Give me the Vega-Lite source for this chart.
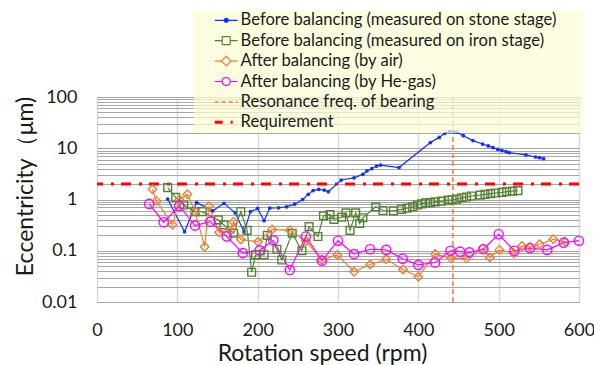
{
  "$schema": "https://vega.github.io/schema/vega-lite/v6.json",
  "width": 482,
  "height": 205,
  "autosize": {"type": "none"},
  "padding": {"left": 97, "top": 97, "right": 15, "bottom": 63},
  "background": "white",
  "config": {
    "font": "Lato",
    "view": {"stroke": "#7f7f7f", "strokeWidth": 1},
    "axis": {"labelColor": "#1a1a1a", "titleColor": "#1a1a1a", "titleFontWeight": "normal", "ticks": false, "domain": false, "labelFontSize": 18, "titleFontSize": 23}
  },
  "datasets": {
    "series": [
      {"series": "Before balancing (measured on stone stage)", "rpm": 88, "ecc": 1.02},
      {"series": "Before balancing (measured on stone stage)", "rpm": 109, "ecc": 0.235},
      {"series": "Before balancing (measured on stone stage)", "rpm": 124, "ecc": 0.87},
      {"series": "Before balancing (measured on stone stage)", "rpm": 144, "ecc": 0.6},
      {"series": "Before balancing (measured on stone stage)", "rpm": 158, "ecc": 0.84},
      {"series": "Before balancing (measured on stone stage)", "rpm": 172, "ecc": 0.55},
      {"series": "Before balancing (measured on stone stage)", "rpm": 183, "ecc": 0.235},
      {"series": "Before balancing (measured on stone stage)", "rpm": 191, "ecc": 0.58},
      {"series": "Before balancing (measured on stone stage)", "rpm": 200, "ecc": 0.67},
      {"series": "Before balancing (measured on stone stage)", "rpm": 208, "ecc": 0.385},
      {"series": "Before balancing (measured on stone stage)", "rpm": 215, "ecc": 0.68},
      {"series": "Before balancing (measured on stone stage)", "rpm": 226, "ecc": 0.69},
      {"series": "Before balancing (measured on stone stage)", "rpm": 236, "ecc": 0.72},
      {"series": "Before balancing (measured on stone stage)", "rpm": 246, "ecc": 0.81},
      {"series": "Before balancing (measured on stone stage)", "rpm": 256, "ecc": 1.0},
      {"series": "Before balancing (measured on stone stage)", "rpm": 263, "ecc": 1.26},
      {"series": "Before balancing (measured on stone stage)", "rpm": 269, "ecc": 1.49},
      {"series": "Before balancing (measured on stone stage)", "rpm": 276, "ecc": 1.58},
      {"series": "Before balancing (measured on stone stage)", "rpm": 283, "ecc": 1.53},
      {"series": "Before balancing (measured on stone stage)", "rpm": 288, "ecc": 1.42},
      {"series": "Before balancing (measured on stone stage)", "rpm": 304, "ecc": 2.4},
      {"series": "Before balancing (measured on stone stage)", "rpm": 320, "ecc": 2.65},
      {"series": "Before balancing (measured on stone stage)", "rpm": 331, "ecc": 3.1},
      {"series": "Before balancing (measured on stone stage)", "rpm": 336, "ecc": 3.6},
      {"series": "Before balancing (measured on stone stage)", "rpm": 342, "ecc": 4.0},
      {"series": "Before balancing (measured on stone stage)", "rpm": 348, "ecc": 4.5},
      {"series": "Before balancing (measured on stone stage)", "rpm": 353, "ecc": 4.7},
      {"series": "Before balancing (measured on stone stage)", "rpm": 376, "ecc": 4.2},
      {"series": "Before balancing (measured on stone stage)", "rpm": 415, "ecc": 12.9},
      {"series": "Before balancing (measured on stone stage)", "rpm": 426, "ecc": 16.3},
      {"series": "Before balancing (measured on stone stage)", "rpm": 433, "ecc": 19.6},
      {"series": "Before balancing (measured on stone stage)", "rpm": 439, "ecc": 21},
      {"series": "Before balancing (measured on stone stage)", "rpm": 444, "ecc": 20.8},
      {"series": "Before balancing (measured on stone stage)", "rpm": 448, "ecc": 20.6},
      {"series": "Before balancing (measured on stone stage)", "rpm": 456, "ecc": 17.6},
      {"series": "Before balancing (measured on stone stage)", "rpm": 468, "ecc": 14.1},
      {"series": "Before balancing (measured on stone stage)", "rpm": 480, "ecc": 12.1},
      {"series": "Before balancing (measured on stone stage)", "rpm": 487, "ecc": 11.1},
      {"series": "Before balancing (measured on stone stage)", "rpm": 493, "ecc": 10.3},
      {"series": "Before balancing (measured on stone stage)", "rpm": 499, "ecc": 9.5},
      {"series": "Before balancing (measured on stone stage)", "rpm": 504, "ecc": 9.0},
      {"series": "Before balancing (measured on stone stage)", "rpm": 509, "ecc": 8.6},
      {"series": "Before balancing (measured on stone stage)", "rpm": 513, "ecc": 8.2},
      {"series": "Before balancing (measured on stone stage)", "rpm": 534, "ecc": 7.4},
      {"series": "Before balancing (measured on stone stage)", "rpm": 546, "ecc": 6.75},
      {"series": "Before balancing (measured on stone stage)", "rpm": 551, "ecc": 6.55},
      {"series": "Before balancing (measured on stone stage)", "rpm": 556, "ecc": 6.25},

      {"series": "Before balancing (measured on iron stage)", "rpm": 88, "ecc": 1.7},
      {"series": "Before balancing (measured on iron stage)", "rpm": 98, "ecc": 1.1},
      {"series": "Before balancing (measured on iron stage)", "rpm": 108, "ecc": 0.78},
      {"series": "Before balancing (measured on iron stage)", "rpm": 122, "ecc": 0.58},
      {"series": "Before balancing (measured on iron stage)", "rpm": 131, "ecc": 0.58},
      {"series": "Before balancing (measured on iron stage)", "rpm": 151, "ecc": 0.4},
      {"series": "Before balancing (measured on iron stage)", "rpm": 158, "ecc": 0.32},
      {"series": "Before balancing (measured on iron stage)", "rpm": 170, "ecc": 0.22},
      {"series": "Before balancing (measured on iron stage)", "rpm": 179, "ecc": 0.58},
      {"series": "Before balancing (measured on iron stage)", "rpm": 187, "ecc": 0.25},
      {"series": "Before balancing (measured on iron stage)", "rpm": 192.5, "ecc": 0.038},
      {"series": "Before balancing (measured on iron stage)", "rpm": 197.5, "ecc": 0.083},
      {"series": "Before balancing (measured on iron stage)", "rpm": 208, "ecc": 0.083},
      {"series": "Before balancing (measured on iron stage)", "rpm": 212, "ecc": 0.2},
      {"series": "Before balancing (measured on iron stage)", "rpm": 224, "ecc": 0.107},
      {"series": "Before balancing (measured on iron stage)", "rpm": 230, "ecc": 0.066},
      {"series": "Before balancing (measured on iron stage)", "rpm": 243, "ecc": 0.22},
      {"series": "Before balancing (measured on iron stage)", "rpm": 255, "ecc": 0.1},
      {"series": "Before balancing (measured on iron stage)", "rpm": 264, "ecc": 0.295},
      {"series": "Before balancing (measured on iron stage)", "rpm": 275, "ecc": 0.19},
      {"series": "Before balancing (measured on iron stage)", "rpm": 282, "ecc": 0.48},
      {"series": "Before balancing (measured on iron stage)", "rpm": 290, "ecc": 0.51},
      {"series": "Before balancing (measured on iron stage)", "rpm": 295, "ecc": 0.41},
      {"series": "Before balancing (measured on iron stage)", "rpm": 304.6, "ecc": 0.45},
      {"series": "Before balancing (measured on iron stage)", "rpm": 310, "ecc": 0.55},
      {"series": "Before balancing (measured on iron stage)", "rpm": 315, "ecc": 0.25},
      {"series": "Before balancing (measured on iron stage)", "rpm": 322, "ecc": 0.55},
      {"series": "Before balancing (measured on iron stage)", "rpm": 327, "ecc": 0.34},
      {"series": "Before balancing (measured on iron stage)", "rpm": 331, "ecc": 0.44},
      {"series": "Before balancing (measured on iron stage)", "rpm": 347, "ecc": 0.72},
      {"series": "Before balancing (measured on iron stage)", "rpm": 356, "ecc": 0.61},
      {"series": "Before balancing (measured on iron stage)", "rpm": 369, "ecc": 0.6},
      {"series": "Before balancing (measured on iron stage)", "rpm": 379, "ecc": 0.64},
      {"series": "Before balancing (measured on iron stage)", "rpm": 386, "ecc": 0.68},
      {"series": "Before balancing (measured on iron stage)", "rpm": 393, "ecc": 0.72},
      {"series": "Before balancing (measured on iron stage)", "rpm": 399, "ecc": 0.78},
      {"series": "Before balancing (measured on iron stage)", "rpm": 404, "ecc": 0.82},
      {"series": "Before balancing (measured on iron stage)", "rpm": 409, "ecc": 0.86},
      {"series": "Before balancing (measured on iron stage)", "rpm": 415, "ecc": 0.87},
      {"series": "Before balancing (measured on iron stage)", "rpm": 421, "ecc": 0.9},
      {"series": "Before balancing (measured on iron stage)", "rpm": 429, "ecc": 0.93},
      {"series": "Before balancing (measured on iron stage)", "rpm": 437, "ecc": 0.97},
      {"series": "Before balancing (measured on iron stage)", "rpm": 442, "ecc": 0.99},
      {"series": "Before balancing (measured on iron stage)", "rpm": 448, "ecc": 1.02},
      {"series": "Before balancing (measured on iron stage)", "rpm": 454, "ecc": 1.08},
      {"series": "Before balancing (measured on iron stage)", "rpm": 460, "ecc": 1.12},
      {"series": "Before balancing (measured on iron stage)", "rpm": 466, "ecc": 1.17},
      {"series": "Before balancing (measured on iron stage)", "rpm": 477, "ecc": 1.22},
      {"series": "Before balancing (measured on iron stage)", "rpm": 483, "ecc": 1.26},
      {"series": "Before balancing (measured on iron stage)", "rpm": 490, "ecc": 1.3},
      {"series": "Before balancing (measured on iron stage)", "rpm": 496, "ecc": 1.34},
      {"series": "Before balancing (measured on iron stage)", "rpm": 504, "ecc": 1.38},
      {"series": "Before balancing (measured on iron stage)", "rpm": 510, "ecc": 1.42},
      {"series": "Before balancing (measured on iron stage)", "rpm": 517, "ecc": 1.46},
      {"series": "Before balancing (measured on iron stage)", "rpm": 524, "ecc": 1.49},

      {"series": "After balancing (by air)", "rpm": 69, "ecc": 1.58},
      {"series": "After balancing (by air)", "rpm": 74, "ecc": 0.94},
      {"series": "After balancing (by air)", "rpm": 94, "ecc": 0.32},
      {"series": "After balancing (by air)", "rpm": 102.5, "ecc": 1.0},
      {"series": "After balancing (by air)", "rpm": 112.5, "ecc": 1.27},
      {"series": "After balancing (by air)", "rpm": 122, "ecc": 0.58},
      {"series": "After balancing (by air)", "rpm": 134, "ecc": 0.12},
      {"series": "After balancing (by air)", "rpm": 139.4, "ecc": 0.74},
      {"series": "After balancing (by air)", "rpm": 152, "ecc": 0.23},
      {"series": "After balancing (by air)", "rpm": 166, "ecc": 0.25},
      {"series": "After balancing (by air)", "rpm": 170, "ecc": 0.37},
      {"series": "After balancing (by air)", "rpm": 179, "ecc": 0.165},
      {"series": "After balancing (by air)", "rpm": 200.5, "ecc": 0.15},
      {"series": "After balancing (by air)", "rpm": 218, "ecc": 0.26},
      {"series": "After balancing (by air)", "rpm": 240, "ecc": 0.25},
      {"series": "After balancing (by air)", "rpm": 260, "ecc": 0.155},
      {"series": "After balancing (by air)", "rpm": 280, "ecc": 0.066},
      {"series": "After balancing (by air)", "rpm": 299, "ecc": 0.083},
      {"series": "After balancing (by air)", "rpm": 320, "ecc": 0.039},
      {"series": "After balancing (by air)", "rpm": 340, "ecc": 0.054},
      {"series": "After balancing (by air)", "rpm": 360, "ecc": 0.068},
      {"series": "After balancing (by air)", "rpm": 381, "ecc": 0.043},
      {"series": "After balancing (by air)", "rpm": 400, "ecc": 0.031},
      {"series": "After balancing (by air)", "rpm": 421, "ecc": 0.086},
      {"series": "After balancing (by air)", "rpm": 441, "ecc": 0.071},
      {"series": "After balancing (by air)", "rpm": 460, "ecc": 0.071},
      {"series": "After balancing (by air)", "rpm": 480, "ecc": 0.11},
      {"series": "After balancing (by air)", "rpm": 489, "ecc": 0.074},
      {"series": "After balancing (by air)", "rpm": 501, "ecc": 0.104},
      {"series": "After balancing (by air)", "rpm": 519, "ecc": 0.089},
      {"series": "After balancing (by air)", "rpm": 529, "ecc": 0.124},
      {"series": "After balancing (by air)", "rpm": 539, "ecc": 0.118},
      {"series": "After balancing (by air)", "rpm": 551, "ecc": 0.134},
      {"series": "After balancing (by air)", "rpm": 568, "ecc": 0.167},
      {"series": "After balancing (by air)", "rpm": 583, "ecc": 0.15},

      {"series": "After balancing (by He-gas)", "rpm": 65, "ecc": 0.82},
      {"series": "After balancing (by He-gas)", "rpm": 83, "ecc": 0.36},
      {"series": "After balancing (by He-gas)", "rpm": 102.5, "ecc": 0.75},
      {"series": "After balancing (by He-gas)", "rpm": 122, "ecc": 0.31},
      {"series": "After balancing (by He-gas)", "rpm": 141, "ecc": 0.37},
      {"series": "After balancing (by He-gas)", "rpm": 161.5, "ecc": 0.19},
      {"series": "After balancing (by He-gas)", "rpm": 181.5, "ecc": 0.09},
      {"series": "After balancing (by He-gas)", "rpm": 202.5, "ecc": 0.102},
      {"series": "After balancing (by He-gas)", "rpm": 219.5, "ecc": 0.16},
      {"series": "After balancing (by He-gas)", "rpm": 240, "ecc": 0.042},
      {"series": "After balancing (by He-gas)", "rpm": 260, "ecc": 0.19},
      {"series": "After balancing (by He-gas)", "rpm": 280, "ecc": 0.064},
      {"series": "After balancing (by He-gas)", "rpm": 300, "ecc": 0.157},
      {"series": "After balancing (by He-gas)", "rpm": 320, "ecc": 0.086},
      {"series": "After balancing (by He-gas)", "rpm": 340, "ecc": 0.107},
      {"series": "After balancing (by He-gas)", "rpm": 360, "ecc": 0.104},
      {"series": "After balancing (by He-gas)", "rpm": 380.5, "ecc": 0.07},
      {"series": "After balancing (by He-gas)", "rpm": 400, "ecc": 0.053},
      {"series": "After balancing (by He-gas)", "rpm": 421, "ecc": 0.059},
      {"series": "After balancing (by He-gas)", "rpm": 440, "ecc": 0.1},
      {"series": "After balancing (by He-gas)", "rpm": 452, "ecc": 0.096},
      {"series": "After balancing (by He-gas)", "rpm": 463.5, "ecc": 0.093},
      {"series": "After balancing (by He-gas)", "rpm": 481, "ecc": 0.107},
      {"series": "After balancing (by He-gas)", "rpm": 500, "ecc": 0.21},
      {"series": "After balancing (by He-gas)", "rpm": 519.5, "ecc": 0.1},
      {"series": "After balancing (by He-gas)", "rpm": 539, "ecc": 0.112},
      {"series": "After balancing (by He-gas)", "rpm": 560.5, "ecc": 0.104},
      {"series": "After balancing (by He-gas)", "rpm": 581, "ecc": 0.144},
      {"series": "After balancing (by He-gas)", "rpm": 600, "ecc": 0.157}
    ],
    "resonance": [{"series": "Resonance freq. of bearing", "rpm": 443}],
    "requirement": [{"series": "Requirement", "ecc": 2}]
  },
  "layer": [
    {
      "data": {"name": "resonance"},
      "mark": {"type": "rule", "strokeDash": [5, 3], "strokeWidth": 1.5},
      "encoding": {
        "x": {"field": "rpm", "type": "quantitative", "scale": {"domain": [0, 600], "nice": false},
          "axis": {"values": [0, 100, 200, 300, 400, 500, 600], "grid": true, "gridColor": "#d9d9d9", "gridWidth": 1.5, "labelPadding": 19, "labelFlush": false, "title": "Rotation speed (rpm)", "titleX": 225, "titleY": 40, "titleBaseline": "top", "titleAlign": "center", "titleAnchor": null}},
        "color": {"field": "series", "type": "nominal",
          "scale": {"domain": ["Before balancing (measured on stone stage)", "Before balancing (measured on iron stage)", "After balancing (by air)", "After balancing (by He-gas)", "Resonance freq. of bearing", "Requirement"],
            "range": ["#1030ff", "#548235", "#ed7d31", "#ff00ff", "#ed7d31", "#ff0000"]},
          "legend": {
            "orient": "none", "legendX": 97, "legendY": -87, "title": null,
            "fillColor": "rgba(252,252,212,0.72)", "padding": 2, "rowPadding": 3.4,
            "labelFont": "Lato", "labelFontSize": 16.6, "labelColor": "#1a1a1a", "labelOffset": 28, "labelLimit": 600,
            "labelExpr": "datum.label + '\u2800\u2800'",
            "symbolSize": 256, "symbolStrokeWidth": 1.2, "symbolFillColor": "transparent",
            "encode": {"symbols": {"update": {
              "shape": {"signal": "['M1.3,0H4.17M2.99,0A0.25,0.25,0,1,1,2.49,0A0.25,0.25,0,1,1,2.99,0ZM2.87,0A0.13,0.13,0,1,1,2.61,0A0.13,0.13,0,1,1,2.87,0Z', 'M1.3,0H2.24M3.24,0H4.17M2.24,-0.5H3.24V0.5H2.24Z', 'M1.3,0H2.14M3.34,0H4.17M2.74,-0.6L3.34,0L2.74,0.6L2.14,0Z', 'M1.3,0H2.24M3.24,0H4.17M3.24,0A0.5,0.5,0,1,1,2.24,0A0.5,0.5,0,1,1,3.24,0Z', 'M1.3,0H4.17', 'M1.3,0H4.17'][datum.index]"},
              "strokeDash": {"signal": "datum.index == 4 ? [4, 3] : datum.index == 5 ? [8, 8, 2, 20] : [1, 0]"},
              "strokeWidth": {"signal": "datum.index == 5 ? 3 : datum.index == 4 ? 1.5 : 1.2"},
              "fill": {"signal": "datum.index == 0 ? '#1030ff' : 'transparent'"},
              "fillOpacity": {"signal": "datum.index == 0 ? 1 : 0"},
              "stroke": {"scale": "color", "field": "value"},
              "opacity": {"value": 1}
            }}}
          }}
      }
    },
    {
      "data": {"name": "requirement"},
      "mark": {"type": "rule", "strokeDash": [10, 7, 3, 8], "strokeWidth": 3},
      "encoding": {
        "y": {"field": "ecc", "type": "quantitative"},
        "color": {"field": "series", "type": "nominal", "legend": null}
      }
    },
    {
      "data": {"name": "series"},
      "mark": {"type": "line", "strokeWidth": 1.2},
      "encoding": {
        "x": {"field": "rpm", "type": "quantitative"},
        "y": {"field": "ecc", "type": "quantitative",
          "scale": {"type": "log", "domain": [0.01, 100], "nice": false},
          "axis": {"values": [0.01, 0.02, 0.03, 0.04, 0.05, 0.06, 0.07, 0.08, 0.09, 0.1, 0.2, 0.3, 0.4, 0.5, 0.6, 0.7, 0.8, 0.9, 1, 2, 3, 4, 5, 6, 7, 8, 9, 10, 20, 30, 40, 50, 60, 70, 80, 90, 100],
            "format": "~g", "labelExpr": "indexof(['0.01', '0.1', '1', '10', '100'], datum.label) >= 0 ? datum.label : ''",
            "labelOverlap": false, "labelFlush": false, "labelPadding": 20, "grid": true, "gridColor": "#a6a6a6", "gridWidth": 1,
            "title": "Eccentricity（μm)", "titleX": -72, "titleY": 89, "titleBaseline": "middle", "titleAngle": -90}},
        "color": {"field": "series", "type": "nominal", "legend": null},
        "order": {"field": "rpm", "type": "quantitative"}
      }
    },
    {
      "data": {"name": "series"},
      "transform": [{"filter": "datum.series == 'Before balancing (measured on stone stage)'"}],
      "mark": {"type": "point", "filled": true, "size": 14, "opacity": 1, "shape": "circle", "color": "#1030ff"},
      "encoding": {
        "x": {"field": "rpm", "type": "quantitative"},
        "y": {"field": "ecc", "type": "quantitative"}
      }
    },
    {
      "data": {"name": "series"},
      "transform": [{"filter": "datum.series != 'Before balancing (measured on stone stage)'"}],
      "mark": {"type": "point", "filled": false, "strokeWidth": 1.4, "opacity": 1},
      "encoding": {
        "x": {"field": "rpm", "type": "quantitative"},
        "y": {"field": "ecc", "type": "quantitative"},
        "color": {"field": "series", "type": "nominal", "legend": null},
        "shape": {"field": "series", "type": "nominal", "legend": null,
          "scale": {"domain": ["Before balancing (measured on iron stage)", "After balancing (by air)", "After balancing (by He-gas)"], "range": ["square", "diamond", "circle"]}},
        "size": {"field": "series", "type": "nominal", "legend": null,
          "scale": {"domain": ["Before balancing (measured on iron stage)", "After balancing (by air)", "After balancing (by He-gas)"], "range": [60, 85, 64]}}
      }
    }
  ]
}
